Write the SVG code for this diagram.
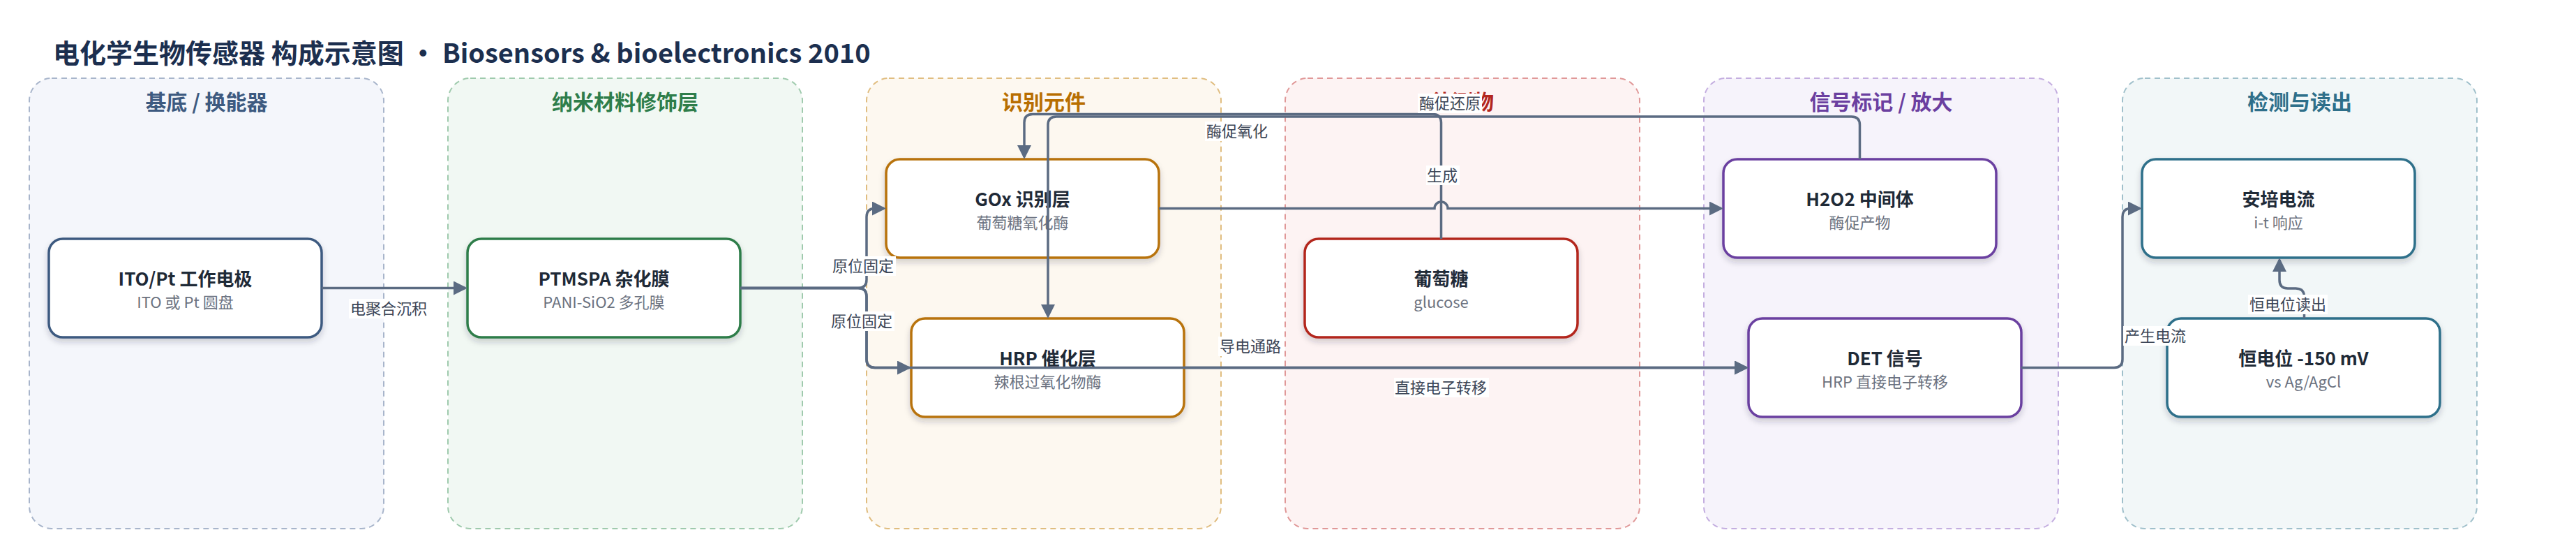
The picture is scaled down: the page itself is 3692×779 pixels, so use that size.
<svg xmlns="http://www.w3.org/2000/svg" width="3692" height="779" viewBox="0 0 3692 779">
<defs>
<style>
text{font-family:"Noto Sans CJK SC","Noto Sans",sans-serif}
.title{font-size:38px;font-weight:700;fill:#1c2f4f}
.pt{font-size:30px;font-weight:700;text-anchor:middle}
.panel{stroke-width:2;stroke-dasharray:8 6}
.node{fill:#fff;stroke-width:3.5;filter:url(#sh)}
.nt{font-size:26px;font-weight:700;fill:#1f2a37;text-anchor:middle}
.ns{font-size:22px;fill:#6b7280;text-anchor:middle}
.e{fill:none;stroke:#5b6b82;stroke-width:3.5}
.ea{marker-end:url(#ah)}
.lb{fill:#fff}
.lt{font-size:22px;fill:#3b4556;text-anchor:middle}
</style>
<filter id="sh" x="-10%" y="-10%" width="120%" height="130%">
<feDropShadow dx="0" dy="5" stdDeviation="4" flood-color="#1f2a37" flood-opacity="0.2"/>
</filter>
<marker id="ah" markerUnits="userSpaceOnUse" markerWidth="20" markerHeight="20" refX="17" refY="10" orient="auto">
<path d="M0,0 L20,10 L0,20 z" fill="#5b6b82"/>
</marker>
</defs>
<rect width="3692" height="779" fill="#fff"/>
<text class="title" x="76" y="90">电化学生物传感器 构成示意图 • Biosensors &amp; bioelectronics 2010</text>

<g id="panels">
<g id="panel-substrate">
<rect class="panel" x="42" y="112" width="508" height="645" rx="32" fill="#f4f6fb" stroke="#a8b5cb"/>
<text class="pt" x="296" y="157" fill="#3d5a80">基底 / 换能器</text>
</g>
<g id="panel-nano">
<rect class="panel" x="642" y="112" width="508" height="645" rx="32" fill="#f1f8f3" stroke="#9fcaad"/>
<text class="pt" x="896" y="157" fill="#2e7d4a">纳米材料修饰层</text>
</g>
<g id="panel-recog">
<rect class="panel" x="1242" y="112" width="508" height="645" rx="32" fill="#fdf8f0" stroke="#e0bd80"/>
<text class="pt" x="1496" y="157" fill="#b86e00">识别元件</text>
</g>
<g id="panel-analyte">
<rect class="panel" x="1842" y="112" width="508" height="645" rx="32" fill="#fdf3f3" stroke="#e09898"/>
<text class="pt" x="2096" y="157" fill="#b3261e">待测物</text>
</g>
<g id="panel-signal">
<rect class="panel" x="2442" y="112" width="508" height="645" rx="32" fill="#f6f3fb" stroke="#c4aee0"/>
<text class="pt" x="2696" y="157" fill="#6b3fa0">信号标记 / 放大</text>
</g>
<g id="panel-detect">
<rect class="panel" x="3042" y="112" width="508" height="645" rx="32" fill="#f2f7f8" stroke="#a0c0cb"/>
<text class="pt" x="3296" y="157" fill="#2e6f8a">检测与读出</text>
</g>
</g>

<g id="nodes">
<g id="n-ito">
<rect class="node" x="70" y="342" width="391" height="141" rx="20" stroke="#3d5a80"/>
<text class="nt" x="265.5" y="409">ITO/Pt 工作电极</text>
<text class="ns" x="265.5" y="441">ITO 或 Pt 圆盘</text>
</g>
<g id="n-ptmspa">
<rect class="node" x="670" y="342" width="391" height="141" rx="20" stroke="#2e7d4a"/>
<text class="nt" x="865.5" y="409">PTMSPA 杂化膜</text>
<text class="ns" x="865.5" y="441">PANI-SiO2 多孔膜</text>
</g>
<g id="n-gox">
<rect class="node" x="1270" y="228" width="391" height="141" rx="20" stroke="#b8730a"/>
<text class="nt" x="1465.5" y="295">GOx 识别层</text>
<text class="ns" x="1465.5" y="327">葡萄糖氧化酶</text>
</g>
<g id="n-hrp">
<rect class="node" x="1306" y="456" width="391" height="141" rx="20" stroke="#b8730a"/>
<text class="nt" x="1501.5" y="523">HRP 催化层</text>
<text class="ns" x="1501.5" y="555">辣根过氧化物酶</text>
</g>
<g id="n-glucose">
<rect class="node" x="1870" y="342" width="391" height="141" rx="20" stroke="#b3261e"/>
<text class="nt" x="2065.5" y="409">葡萄糖</text>
<text class="ns" x="2065.5" y="441">glucose</text>
</g>
<g id="n-h2o2">
<rect class="node" x="2470" y="228" width="391" height="141" rx="20" stroke="#6b3fa0"/>
<text class="nt" x="2665.5" y="295">H2O2 中间体</text>
<text class="ns" x="2665.5" y="327">酶促产物</text>
</g>
<g id="n-det">
<rect class="node" x="2506" y="456" width="391" height="141" rx="20" stroke="#6b3fa0"/>
<text class="nt" x="2701.5" y="523">DET 信号</text>
<text class="ns" x="2701.5" y="555">HRP 直接电子转移</text>
</g>
<g id="n-amp">
<rect class="node" x="3070" y="228" width="391" height="141" rx="20" stroke="#2e6f8a"/>
<text class="nt" x="3265.5" y="295">安培电流</text>
<text class="ns" x="3265.5" y="327">i-t 响应</text>
</g>
<g id="n-pot">
<rect class="node" x="3106" y="456" width="391" height="141" rx="20" stroke="#2e6f8a"/>
<text class="nt" x="3301.5" y="523">恒电位 -150 mV</text>
<text class="ns" x="3301.5" y="555">vs Ag/AgCl</text>
</g>
</g>

<g id="connectors">
<path class="e ea" d="M461,412.5 H667"/>
<path class="e ea" d="M1061,412.5 H1230 Q1242,412.5 1242,400.5 V310.5 Q1242,298.5 1254,298.5 H1267"/>
<path class="e ea" d="M1061,412.5 H1230 Q1242,412.5 1242,424.5 V514.5 Q1242,526.5 1254,526.5 H1303"/>
<path class="e ea" d="M1061,412.5 H1230 Q1242,412.5 1242,424.5 V514.5 Q1242,526.5 1254,526.5 H2503"/>
<path class="e ea" d="M1697,526.5 H2503"/>
<path class="e ea" d="M1661,298.5 H2056 A9.5,9.5 0 0 1 2075,298.5 H2467"/>
<path class="e ea" d="M2065.5,342 V175.5 Q2065.5,163.5 2053.5,163.5 H1480 Q1468,163.5 1468,175.5 V225"/>
<path class="e ea" d="M2665.5,228 V179 Q2665.5,167 2653.5,167 H1514 Q1502,167 1502,179 V453"/>
<path class="e ea" d="M2897,526.5 H3030 Q3042,526.5 3042,514.5 V310.5 Q3042,298.5 3054,298.5 H3067"/>
<path class="e ea" d="M3302.5,456 V425 Q3302.5,413 3290.5,413 H3279 Q3267,413 3267,401 V372"/>
</g>

<g id="edge-labels">
<rect class="lb" x="500" y="428" width="114" height="28"/>
<text class="lt" x="557" y="450">电聚合沉积</text>
<rect class="lb" x="1192" y="367" width="92" height="28"/>
<text class="lt" x="1237" y="389">原位固定</text>
<rect class="lb" x="1190" y="446" width="92" height="28"/>
<text class="lt" x="1235" y="468">原位固定</text>
<rect class="lb" x="1746" y="482" width="92" height="28"/>
<text class="lt" x="1792" y="504">导电通路</text>
<rect class="lb" x="1998" y="541" width="136" height="28"/>
<text class="lt" x="2065" y="563">直接电子转移</text>
<rect class="lb" x="1727" y="174" width="92" height="28"/>
<text class="lt" x="1773" y="196">酶促氧化</text>
<rect class="lb" x="2044" y="237" width="48" height="28"/>
<text class="lt" x="2067" y="259">生成</text>
<rect class="lb" x="2032" y="134" width="92" height="28"/>
<text class="lt" x="2078" y="156">酶促还原</text>
<rect class="lb" x="3043" y="467" width="92" height="28"/>
<text class="lt" x="3089" y="489">产生电流</text>
<rect class="lb" x="3222" y="422" width="114" height="28"/>
<text class="lt" x="3279" y="444">恒电位读出</text>
</g>
</svg>
